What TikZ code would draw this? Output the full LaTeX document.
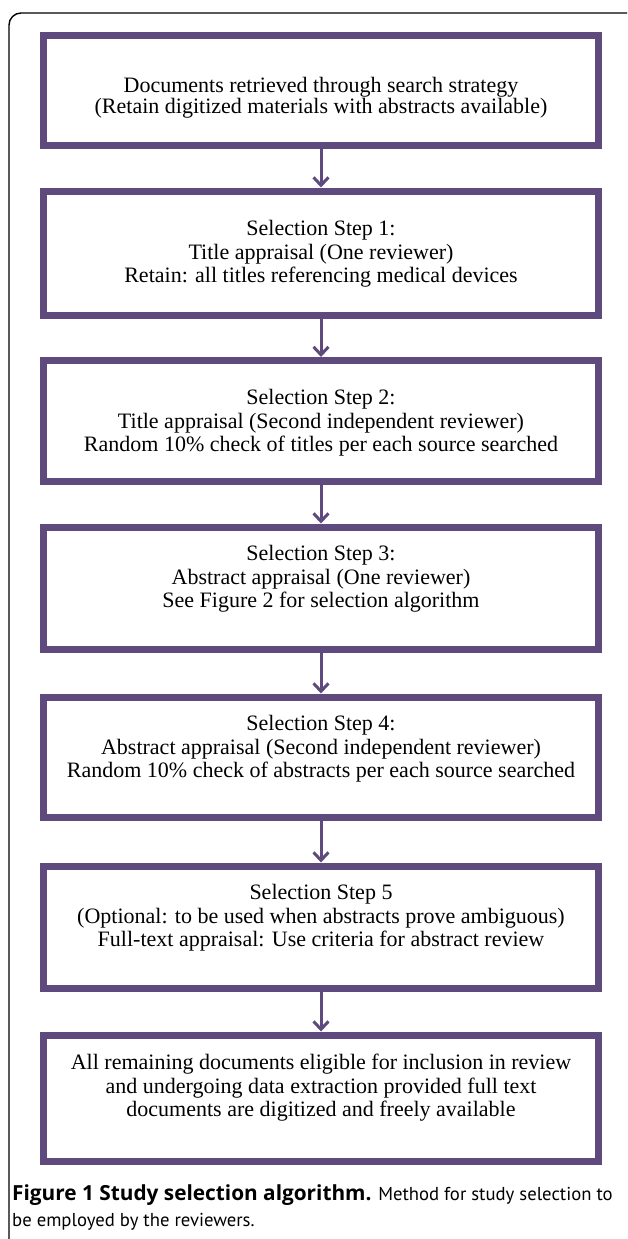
\documentclass[tikz,border=0pt]{standalone}
\usepackage{fontspec}
\setmainfont{Liberation Serif}
\newfontfamily\capfont{PT Sans}
\newfontfamily\capbold{Open Sans Bold}
\usetikzlibrary{arrows.meta,shadows}

\definecolor{stepviolet}{RGB}{94,74,125}

\tikzset{
  stepbox/.style={draw=stepviolet, line width=7pt, fill=white, inner sep=0pt,
    minimum width=555pt,
    drop shadow={shadow xshift=1.5pt, shadow yshift=-2.5pt, opacity=0.35, fill=black!55}},
  steptext/.style={align=center, inner sep=0pt, font=\fontsize{22}{23.5}\selectfont},
  flow/.style={draw=stepviolet, line width=3pt,
    -{Straight Barb[length=8pt,width=15pt,line width=3pt]}}
}

\begin{document}
\begin{tikzpicture}[x=1pt,y=-1pt]
\useasboundingbox (0,0) rectangle (627,1239);
\begin{scope}
\clip (0,0) rectangle (627,1239);
\draw[line width=1.4pt, rounded corners=12pt] (9,13) rectangle (660,1280);
\end{scope}

% boxes
\node[stepbox, minimum height=110pt] (docs)  at (321,90.5) {};
\node[stepbox, minimum height=124pt] (step1) at (321,253) {};
\node[stepbox, minimum height=121pt] (step2) at (321,421) {};
\node[stepbox, minimum height=122pt] (step3) at (321,588) {};
\node[stepbox, minimum height=120pt] (step4) at (321,757) {};
\node[stepbox, minimum height=122pt] (step5) at (321,927) {};
\node[stepbox, minimum height=126pt] (final) at (321,1098) {};

% texts
\node[steptext, font=\fontsize{22}{19}\selectfont] (docs-txt) at (321,98)
  {Documents retrieved through search strategy\\(Retain digitized materials with abstracts available)};
\node[steptext] (step1-txt) at (321,254)
  {Selection Step 1:\\Title appraisal (One reviewer)\\Retain: all titles referencing medical devices};
\node[steptext] (step2-txt) at (321,423)
  {Selection Step 2:\\Title appraisal (Second independent reviewer)\\Random 10\% check of titles per each source searched};
\node[steptext] (step3-txt) at (321,579)
  {Selection Step 3:\\Abstract appraisal (One reviewer)\\See Figure 2 for selection algorithm};
\node[steptext] (step4-txt) at (321,749)
  {Selection Step 4:\\Abstract appraisal (Second independent reviewer)\\Random 10\% check of abstracts per each source searched};
\node[steptext] (step5-txt) at (321,918)
  {Selection Step 5\\(Optional: to be used when abstracts prove ambiguous)\\Full-text appraisal: Use criteria for abstract review};
\node[steptext] (final-txt) at (321,1088)
  {All remaining documents eligible for inclusion in review\\and undergoing data extraction provided full text\\documents are digitized and freely available};

% arrows
\foreach \a/\b in {docs/step1, step1/step2, step2/step3, step3/step4, step4/step5, step5/final}
  \draw[flow] (\a.south) -- (\b.north);

% caption
\node[anchor=west, align=left, inner sep=0pt, font=\capfont\fontsize{18.7}{26}\selectfont] (caption) at (12,1207)
  {{\capbold\fontsize{20.8}{26}\selectfont Figure 1 Study selection algorithm.} Method for study selection to\\be employed by the reviewers.};
\end{tikzpicture}
\end{document}
